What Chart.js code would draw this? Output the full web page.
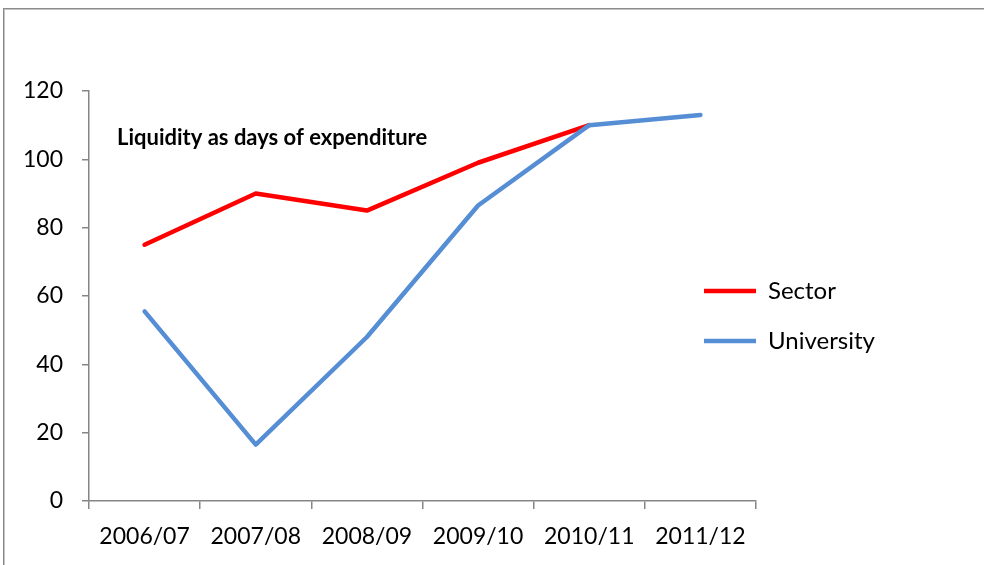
<!DOCTYPE html>
<html>
<head>
<meta charset="utf-8">
<script src="https://cdn.jsdelivr.net/npm/chart.js@4"></script>
<style>
  html, body { margin: 0; padding: 0; background: #fff; }
  #wrap { position: relative; width: 984px; height: 565px; overflow: hidden; }
  #frame { position: absolute; left: 3px; top: 8px; width: 1100px; height: 700px;
           border-top: 1px solid #8a8a8a; border-left: 1px solid #8a8a8a;
           box-shadow: inset 1px 1px 0 #c4c4c4; }
  #chart { position: absolute; left: 0; top: 0; }
</style>
</head>
<body>
<div id="wrap">
  <div id="frame"></div>
  <canvas id="chart" width="984" height="565"></canvas>
</div>
<script>
// values
const years = ['2006/07', '2007/08', '2008/09', '2009/10', '2010/11', '2011/12'];
const sectorDays = [75, 90, 85, 99, 110, null];
const universityDays = [55.5, 16.5, 48, 86.5, 110, 113];
const yTicks = [0, 20, 40, 60, 80, 100, 120];
const titleText = 'Liquidity as days of expenditure';

const AXIS_GREY = '#868686';
Chart.defaults.font.family = 'Lato, "Open Sans", sans-serif';
Chart.defaults.color = '#000';

// Excel puts the legend over the right edge of the plot, so move it there after layout
const legendMover = {
  id: 'legendMover',
  afterLayout(chart) {
    const lg = chart.legend;
    if (!lg) return;
    lg.left = 678;
    lg.top = 253;
    lg.right = lg.left + 280;
    lg.bottom = lg.top + 160;
  }
};

// the in-plot title
const plotTitle = {
  id: 'plotTitle',
  afterDraw(chart) {
    const ctx = chart.ctx;
    ctx.save();
    ctx.font = 'bold 22px Lato, "Open Sans", sans-serif';
    ctx.fillStyle = '#000';
    ctx.textBaseline = 'alphabetic';
    ctx.textAlign = 'left';
    ctx.fillText(titleText, 117, 145);
    ctx.restore();
  }
};

new Chart(document.getElementById('chart'), {
  type: 'line',
  data: {
    labels: years,
    datasets: [
      {
        label: 'Sector',
        data: sectorDays,
        borderColor: '#FF0000',
        backgroundColor: '#FF0000',
        borderWidth: 4.5,
        borderCapStyle: 'round',
        borderJoinStyle: 'round',
        pointRadius: 0,
        tension: 0,
        order: 1,
      },
      {
        label: 'University',
        data: universityDays,
        borderColor: '#558ED5',
        backgroundColor: '#558ED5',
        borderWidth: 4.5,
        borderCapStyle: 'round',
        borderJoinStyle: 'round',
        pointRadius: 0,
        tension: 0,
        order: 0,
      },
    ],
  },
  options: {
    responsive: false,
    animation: false,
    events: [],
    layout: { padding: { left: 10, top: 91, right: 228, bottom: 0 } },
    plugins: {
      tooltip: { enabled: false },
      legend: {
        position: 'chartArea',
        align: 'start',
        labels: {
          usePointStyle: true,
          pointStyle: 'line',
          pointStyleWidth: 52,
          padding: 26,
          font: { size: 24 },
          color: '#000',
          sort: (a, b) => a.datasetIndex - b.datasetIndex,
        },
      },
    },
    scales: {
      x: {
        offset: true,
        grid: { offset: true, drawOnChartArea: false, drawTicks: true, tickLength: 8, color: AXIS_GREY, lineWidth: 1.5 },
        border: { display: true, color: AXIS_GREY, width: 1.5 },
        ticks: { font: { size: 23 }, padding: 14, maxRotation: 0, autoSkip: false },
        afterFit: (s) => { s.height = 64; },
      },
      y: {
        min: 0,
        max: 120,
        afterBuildTicks: (s) => { s.ticks = yTicks.map(v => ({ value: v })); },
        grid: { drawOnChartArea: false, drawTicks: true, tickLength: 7, color: AXIS_GREY, lineWidth: 1.5 },
        border: { display: true, color: AXIS_GREY, width: 1.5 },
        ticks: { font: { size: 23 }, padding: 19 },
        afterFit: (s) => { s.width = 79; },
      },
    },
  },
  plugins: [legendMover, plotTitle],
});
</script>
</body>
</html>
